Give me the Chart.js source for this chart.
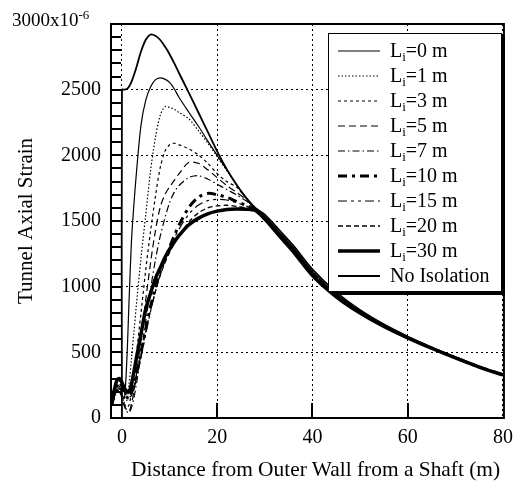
<!DOCTYPE html>
<html>
<head>
<meta charset="utf-8">
<script src="https://cdn.jsdelivr.net/npm/chart.js@4.4.1/dist/chart.umd.min.js"></script>
<style>
  body { margin: 0; background: #fff; }
  #wrap { position: relative; width: 521px; height: 482px; font-family: "Liberation Serif", "Times New Roman", serif; color: #000; }
  #unit { position: absolute; left: 12px; top: 9px; font-size: 19px; line-height: 22px; white-space: nowrap; }
  #unit sup { font-size: 13px; vertical-align: 7px; line-height: 0; }
  #xtitle { position: absolute; left: 131px; top: 458px; font-size: 21.4px; line-height: 22px; white-space: nowrap; }
  #legend { position: absolute; left: 328px; top: 33px; width: 174px; height: 259px; padding-top: 4px; box-sizing: border-box;
            border: 1.5px solid #000; box-shadow: 3px 3px 0 #000; background: #fff; }
  .row { height: 25px; display: flex; align-items: center; font-size: 20px; white-space: nowrap; }
  .row svg { margin-left: 9px; margin-right: 10px; flex: none; }
  .row sub { font-size: 13px; vertical-align: -4px; line-height: 0; }
</style>
</head>
<body>
<div id="wrap">
  <canvas id="chart" width="521" height="482"></canvas>
  <div id="unit">3000x10<sup>-6</sup></div>
  <div id="xtitle">Distance from Outer Wall from a Shaft (m)</div>
  <div id="legend"></div>
</div>
<script>
// distance from the outer wall (m); 0 appears twice for the vertical jump of "No Isolation"
var distance = [-2, -1.5, -1, -0.5, 0, 0, 0.5, 1, 1.5, 2, 2.5, 3, 4, 5, 6, 7, 8, 9, 10, 11, 12,
  14, 16, 18, 20, 22, 24, 26, 28, 30, 33, 36, 40, 45, 50, 55, 60, 65, 70, 75, 80];

var isolationLengths = [0, 1, 3, 5, 7, 10, 15, 20, 30];

// tunnel axial strain (x10^-6)
var strainL0 = [120, 200, 250, 240, 180, null, 150, 420, 900, 1350, 1620, 1850, 2230, 2420, 2520, 2575, 2590, 2580, 2555, 2505, 2440,
  2330, 2225, 2110, 2000, 1890, 1780, 1680, 1597, 1535, 1415, 1295, 1115, 944, 813, 707, 616, 536, 461, 391, 330];
var strainL1 = [110, 190, 240, 230, 170, null, 120, 130, 260, 450, 650, 850, 1220, 1550, 1880, 2130, 2300, 2370, 2365, 2350, 2325,
  2280, 2190, 2095, 1990, 1885, 1778, 1680, 1596, 1533, 1413, 1293, 1113, 942, 812, 706, 616, 536, 460, 390, 330];
var strainL3 = [100, 180, 230, 220, 160, null, 110, 80, 100, 200, 330, 480, 800, 1130, 1420, 1680, 1900, 2030, 2080, 2092, 2080,
  2050, 2005, 1940, 1860, 1800, 1760, 1675, 1595, 1531, 1411, 1291, 1111, 941, 811, 705, 615, 535, 460, 390, 330];
var strainL5 = [100, 170, 220, 210, 150, null, 100, 60, 50, 110, 200, 320, 600, 900, 1180, 1420, 1600, 1700, 1760, 1810, 1860,
  1945, 1940, 1890, 1830, 1770, 1720, 1665, 1594, 1529, 1408, 1288, 1108, 939, 809, 704, 614, 534, 459, 389, 329];
var strainL7 = [100, 160, 210, 200, 140, null, 90, 50, 40, 80, 150, 250, 480, 740, 980, 1200, 1380, 1520, 1640, 1720, 1770,
  1830, 1845, 1820, 1780, 1740, 1700, 1655, 1592, 1527, 1406, 1286, 1106, 937, 808, 703, 614, 534, 459, 389, 329];
var strainL10 = [130, 200, 260, 270, 240, null, 190, 160, 150, 190, 260, 340, 500, 680, 850, 990, 1110, 1210, 1300, 1390, 1470,
  1600, 1680, 1710, 1700, 1680, 1650, 1620, 1588, 1524, 1402, 1282, 1102, 934, 806, 702, 613, 533, 459, 389, 329];
var strainL15 = [140, 210, 270, 280, 250, null, 200, 170, 160, 170, 220, 300, 460, 640, 810, 960, 1090, 1200, 1290, 1370, 1440,
  1550, 1620, 1655, 1665, 1660, 1640, 1615, 1586, 1521, 1398, 1277, 1097, 931, 804, 700, 612, 533, 458, 388, 329];
var strainL20 = [145, 220, 280, 290, 260, null, 210, 185, 180, 190, 240, 320, 480, 660, 820, 960, 1080, 1180, 1260, 1330, 1390,
  1490, 1560, 1600, 1615, 1620, 1612, 1600, 1584, 1519, 1395, 1273, 1093, 928, 802, 699, 611, 532, 458, 388, 329];
var strainL30 = [150, 230, 290, 300, 270, null, 230, 205, 200, 260, 350, 450, 640, 830, 950, 1060, 1140, 1220, 1285, 1340, 1390,
  1470, 1520, 1555, 1575, 1588, 1592, 1590, 1580, 1514, 1388, 1265, 1085, 923, 799, 697, 610, 531, 457, 388, 328];
var strainNoIsolation = [null, null, null, null, 0, 2500, 2500, 2505, 2525, 2560, 2610, 2665, 2790, 2880, 2920, 2910, 2880, 2830, 2770, 2700, 2625,
  2480, 2330, 2180, 2030, 1895, 1780, 1680, 1600, 1548, 1432, 1312, 1132, 958, 822, 713, 621, 539, 463, 392, 331];

var yTicks = [0, 500, 1000, 1500, 2000, 2500, 3000];
var xTicks = [0, 20, 40, 60, 80];

var seriesValues = [strainL0, strainL1, strainL3, strainL5, strainL7, strainL10, strainL15, strainL20, strainL30];

// line styles, in legend order
var lineStyles = [
  { width: 1.2, dash: [] },
  { width: 1.2, dash: [1.5, 2] },
  { width: 1.2, dash: [3, 3] },
  { width: 1.2, dash: [7, 4] },
  { width: 1.2, dash: [7, 3, 1.5, 3] },
  { width: 3, dash: [9, 5, 3, 5] },
  { width: 1.2, dash: [9, 4, 3, 4, 3, 4] },
  { width: 1.3, dash: [5, 3] },
  { width: 3.5, dash: [] },
  { width: 1.8, dash: [] }
];

function makePoints(values) {
  return distance.map(function (x, i) {
    return { x: x, y: values[i] };
  });
}

var datasets = [];
for (var i = 0; i < isolationLengths.length; i++) {
  datasets.push({ label: "Li=" + isolationLengths[i] + " m", html: "L<sub>i</sub>=" + isolationLengths[i] + " m",
    data: makePoints(seriesValues[i]) });
}
datasets.push({ label: "No Isolation", html: "No Isolation", data: makePoints(strainNoIsolation) });

datasets.forEach(function (ds, i) {
  ds.borderColor = "#000";
  ds.borderWidth = lineStyles[i].width;
  ds.borderDash = lineStyles[i].dash;
  ds.pointRadius = 0;
  ds.tension = 0.3;
  ds.spanGaps = true;
  ds.fill = false;
});

// inward tick marks and the frame round the plot
var frameAndTicks = {
  id: "frameAndTicks",
  afterDatasetsDraw: function (chart) {
    var ctx = chart.ctx;
    var area = chart.chartArea;
    var sx = chart.scales.x;
    var sy = chart.scales.y;
    ctx.save();
    ctx.strokeStyle = "#000";
    ctx.lineWidth = 2;
    ctx.beginPath();
    for (var v = 100; v < 3000; v += 100) {
      var y = Math.round(sy.getPixelForValue(v));
      ctx.moveTo(area.left, y);
      ctx.lineTo(area.left + 10, y);
    }
    [20, 40, 60].forEach(function (t) {
      var x = Math.round(sx.getPixelForValue(t));
      ctx.moveTo(x, area.bottom);
      ctx.lineTo(x, area.bottom - 15);
    });
    ctx.stroke();
    ctx.strokeRect(area.left, area.top, area.right - area.left, area.bottom - area.top);
    ctx.restore();
  }
};

var tickFont = { family: "'Liberation Serif', 'Times New Roman', serif", size: 20 };

new Chart(document.getElementById("chart"), {
  type: "line",
  data: { datasets: datasets },
  plugins: [frameAndTicks],
  options: {
    responsive: false,
    animation: false,
    events: [],
    layout: { padding: { left: 0, top: 24, right: 16, bottom: 0 } },
    plugins: { legend: { display: false }, tooltip: { enabled: false } },
    scales: {
      x: {
        type: "linear",
        min: -2.3,
        max: 80.2,
        afterBuildTicks: function (scale) {
          scale.ticks = xTicks.map(function (v) { return { value: v }; });
        },
        afterFit: function (scale) { scale.height = 64; },
        ticks: { color: "#000", font: tickFont, padding: 8, maxRotation: 0 },
        grid: { color: "#000", lineWidth: 1, drawTicks: false },
        border: { display: false, dash: [2, 3] }
      },
      y: {
        type: "linear",
        min: 0,
        max: 3000,
        afterBuildTicks: function (scale) {
          scale.ticks = yTicks.map(function (v) { return { value: v }; });
        },
        afterFit: function (scale) { scale.width = 111; },
        ticks: {
          color: "#000", font: tickFont, padding: 10,
          callback: function (v) { return v === 3000 ? "" : String(v); }
        },
        title: {
          display: true, text: "Tunnel Axial Strain", color: "#000",
          font: { family: "'Liberation Serif', 'Times New Roman', serif", size: 21 },
          padding: { top: 14, bottom: 0 }
        },
        grid: { color: "#000", lineWidth: 1, drawTicks: false },
        border: { display: false, dash: [2, 3] }
      }
    }
  }
});

// legend box with subscripts, built from the dataset styles
var legend = document.getElementById("legend");
datasets.forEach(function (ds) {
  var row = document.createElement("div");
  row.className = "row";
  var dash = ds.borderDash.length ? ' stroke-dasharray="' + ds.borderDash.join(" ") + '"' : "";
  row.innerHTML = '<svg width="42" height="8"><line x1="0" y1="4" x2="42" y2="4" stroke="#000" stroke-width="' +
    ds.borderWidth + '"' + dash + '/></svg><span>' + ds.html + "</span>";
  legend.appendChild(row);
});
</script>
</body>
</html>
